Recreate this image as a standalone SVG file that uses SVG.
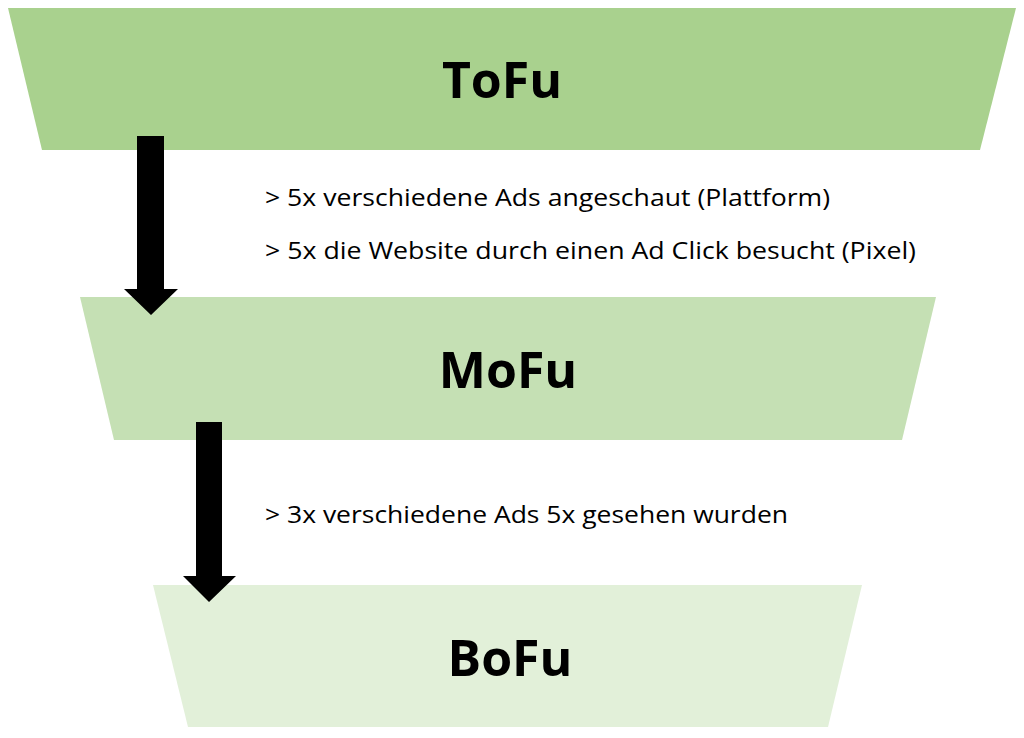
<svg xmlns="http://www.w3.org/2000/svg" width="1024" height="738" viewBox="0 0 1024 738">
<style>
.t{font-family:"Open Sans","Liberation Sans",sans-serif;font-weight:bold;font-size:50px;fill:#000;text-anchor:middle}
.l{font-family:"Open Sans","Liberation Sans",sans-serif;font-size:23px;fill:#000}
</style>
<rect width="1024" height="738" fill="#fff"/>
<g id="tofu"><polygon points="8,8 1016,8 980,150 42,150" fill="#a9d18e"/><text class="t" x="502" y="98">ToFu</text></g>
<g id="mofu"><polygon points="80,297 936,297 902,440 114,440" fill="#c5e0b4"/><text class="t" x="508" y="388">MoFu</text></g>
<g id="bofu"><polygon points="153,585 862,585 828,727 188,727" fill="#e2f0d9"/><text class="t" x="510" y="676">BoFu</text></g>
<g id="labels">
<text class="l" x="265" y="206" textLength="565" lengthAdjust="spacingAndGlyphs">&gt; 5x verschiedene Ads angeschaut (Plattform)</text>
<text class="l" x="265" y="259" textLength="651" lengthAdjust="spacingAndGlyphs">&gt; 5x die Website durch einen Ad Click besucht (Pixel)</text>
<text class="l" x="265" y="523" textLength="523" lengthAdjust="spacingAndGlyphs">&gt; 3x verschiedene Ads 5x gesehen wurden</text>
</g>
<g id="connectors" fill="#000">
<polygon points="137,136 164,136 164,289 178,289 151,315 124,289 137,289"/>
<polygon points="196,422 222,422 222,576 236,576 209,602 183,576 196,576"/>
</g>
</svg>
